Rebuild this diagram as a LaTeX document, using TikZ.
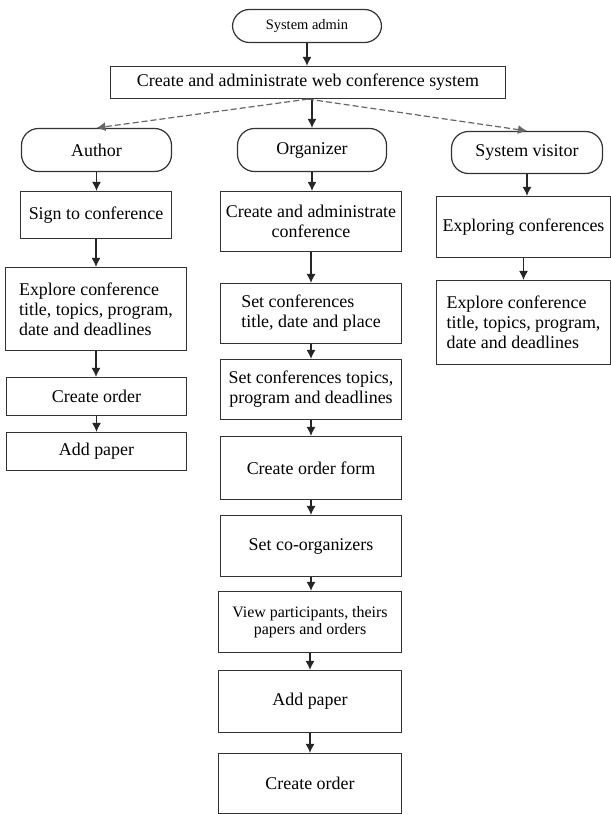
\documentclass[tikz,border=0pt]{standalone}
\usepackage{fontspec}
\setmainfont{Liberation Serif}
\usetikzlibrary{arrows.meta,shapes,positioning}
\tikzset{
  basic/.style  = {draw=black!80, line width=1.2bp, inner sep=0pt, align=center,
                   font=\rmfamily\fontsize{18}{20}\selectfont, rectangle},
  actor/.style  = {basic, rounded corners=17bp},
  task/.style   = {basic},
  flow/.style   = {draw=black!85, line width=1.2bp, ->},
  optional/.style = {flow, draw=black!60, dash pattern=on 6bp off 3bp}
}

\begin{document}
\begin{tikzpicture}[x=1bp, y=-1bp,
  >={Latex[length=9bp,width=9bp]}]
\useasboundingbox (0,0) rectangle (611,814);

% top of the diagram
\node[actor, minimum width=149bp, minimum height=33bp,
      font=\rmfamily\fontsize{14.5}{16}\selectfont] (admin) at (307,26) {System admin};
\node[task, minimum width=395bp, minimum height=32bp] (web) at (308,82.5)
  {Create and administrate web conference system};

% the three users
\node[actor, minimum width=150bp, minimum height=43bp] (author) at (96.5,150) {Author};
\node[actor, minimum width=149bp, minimum height=43bp] (organizer) at (312,150) {Organizer};
\node[actor, minimum width=151bp, minimum height=42bp] (visitor) at (527,152.5) {System visitor};

% author column
\node[task, minimum width=151bp, minimum height=47bp] (sign) at (96,215) {Sign to conference};
\node[task, minimum width=181bp, minimum height=83bp, align=left] (aexplore) at (96,309)
  {Explore conference\\title, topics, program,\\date and deadlines};
\node[task, minimum width=180bp, minimum height=38bp] (aorder) at (96.5,396.5) {Create order};
\node[task, minimum width=180bp, minimum height=38bp] (apaper) at (96.5,451.5) {Add paper};

% organizer column
\node[task, minimum width=181bp, minimum height=60bp] (oadmin) at (311,221.5)
  {Create and administrate\\conference};
\node[task, minimum width=181bp, minimum height=60bp, align=left] (otitle) at (311,313.5)
  {Set conferences\\title, date and place};
\node[task, minimum width=181bp, minimum height=60bp] (otopics) at (311,389.5)
  {Set conferences topics,\\program and deadlines};
\node[task, minimum width=181bp, minimum height=63bp] (oform) at (311,468) {Create order form};
\node[task, minimum width=181bp, minimum height=61bp] (ocoorg) at (311,546) {Set co-organizers};
\node[task, minimum width=183bp, minimum height=61bp,
      font=\rmfamily\fontsize{16}{17.7}\selectfont] (oview) at (310,622)
  {View participants, theirs\\papers and orders};
\node[task, minimum width=183bp, minimum height=62bp] (opaper) at (310,701.5) {Add paper};
\node[task, minimum width=183bp, minimum height=60bp] (oorder) at (310,783.5) {Create order};

% visitor column
\node[task, minimum width=174bp, minimum height=61bp] (vexplore) at (523.5,227) {Exploring conferences};
\node[task, minimum width=174bp, minimum height=84bp, align=left] (vtitle) at (523.5,322.5)
  {Explore conference\\title, topics, program,\\date and deadlines};

% connectors
\draw[flow] (admin.south) -- (admin.south |- web.north);
\draw[optional] (web.south) -- (author.north);
\draw[flow] (web.south -| organizer.north) -- (organizer.north);
\draw[optional] (web.south) -- (visitor.north);

\foreach \a/\b in {author/sign, sign/aexplore, aexplore/aorder, aorder/apaper,
                   organizer/oadmin, oadmin/otitle, otitle/otopics, otopics/oform,
                   oform/ocoorg, ocoorg/oview, oview/opaper, opaper/oorder,
                   visitor/vexplore, vexplore/vtitle}
  \draw[flow] (\a.south) -- (\a.south |- \b.north);

\end{tikzpicture}
\end{document}
